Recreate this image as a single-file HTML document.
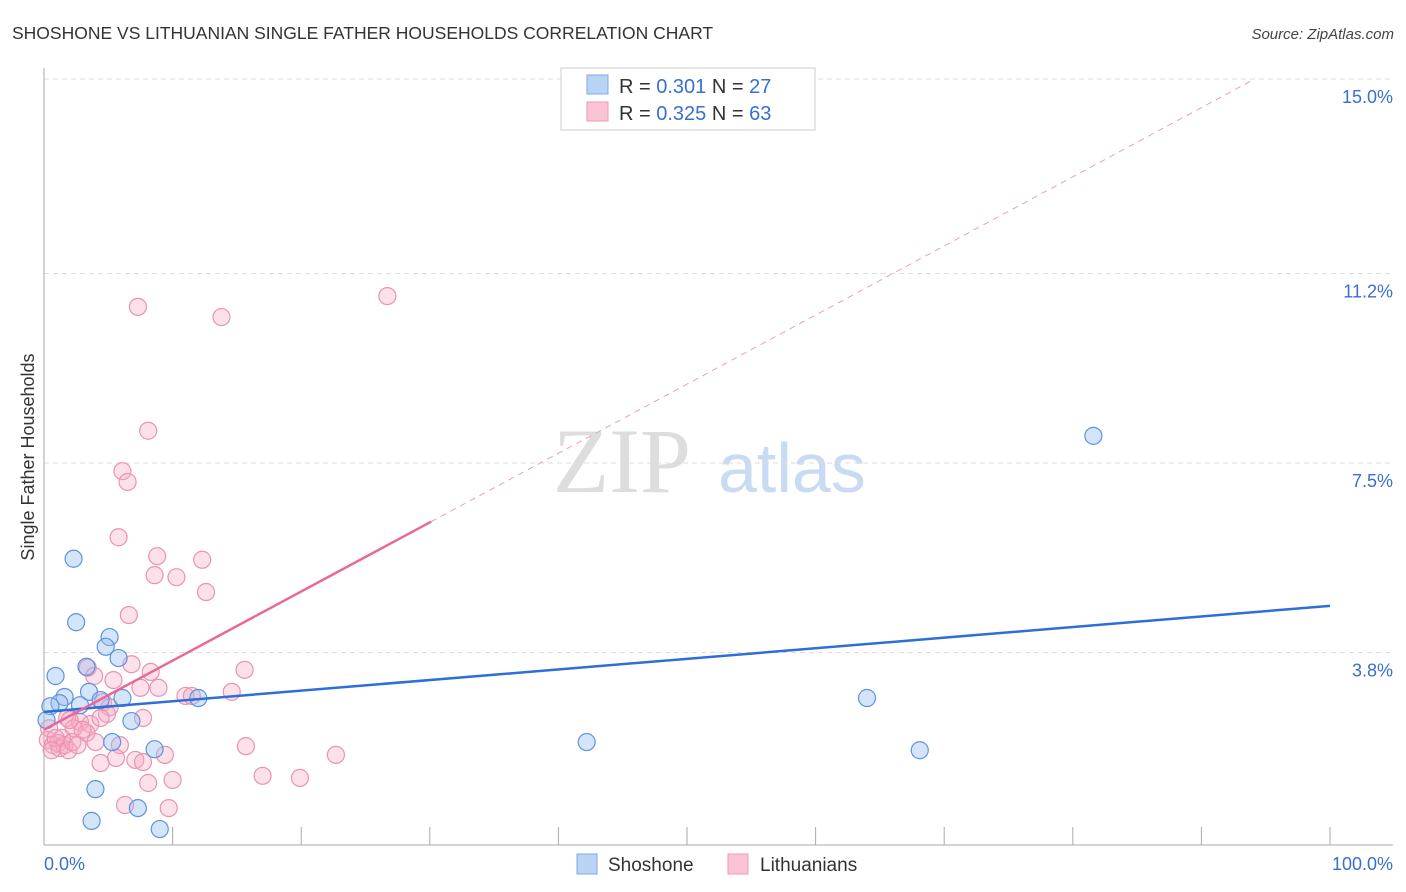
<!DOCTYPE html>
<html><head><meta charset="utf-8"><style>
body{margin:0;background:#fff;font-family:"Liberation Sans",sans-serif}
svg{display:block}
</style></head><body>
<svg id="chart" width="1406" height="892" xmlns="http://www.w3.org/2000/svg">
<text x="12" y="39" font-size="17.5" fill="#333" font-family="Liberation Sans, sans-serif">SHOSHONE VS LITHUANIAN SINGLE FATHER HOUSEHOLDS CORRELATION CHART</text>
<text x="1394" y="39" font-size="15" fill="#444" font-style="italic" text-anchor="end">Source: ZipAtlas.com</text>
<g>
<text x="553" y="492" font-size="92" fill="#ddd" font-family="Liberation Serif, serif">ZIP</text>
<text x="718" y="492" font-size="70" fill="#c9dbf2">atlas</text>
</g>
<g id="grid"></g>
<g id="axes"></g>
<g id="marks"></g>
<text transform="translate(34,457) rotate(-90)" font-size="18" fill="#333" text-anchor="middle">Single Father Households</text>
<g>
<rect x="561" y="68" width="254" height="62" fill="#fff" stroke="#ccc"/>
<rect x="587" y="75" width="21" height="19" fill="#b9d3f5" stroke="#7ea8e6"/>
<rect x="587" y="102" width="21" height="19" fill="#f9c4d4" stroke="#ee9ab5"/>
<text x="619" y="93" font-size="20" fill="#333">R = <tspan fill="#3a6fd0">0.301</tspan>   N = <tspan fill="#3a6fd0">27</tspan></text>
<text x="619" y="120" font-size="20" fill="#333">R = <tspan fill="#3a6fd0">0.325</tspan>   N = <tspan fill="#3a6fd0">63</tspan></text>
</g>
<g>
<rect x="577" y="854" width="20" height="20" fill="#b9d3f5" stroke="#7ea8e6"/>
<text x="608" y="871" font-size="19" fill="#333">Shoshone</text>
<rect x="728" y="854" width="20" height="20" fill="#f9c4d4" stroke="#ee9ab5"/>
<text x="760" y="871" font-size="19" fill="#333">Lithuanians</text>
</g>
</svg>
<script>
const yTicks=[3.8,7.5,11.2,15.0];
const yTickLabels=["3.8%","7.5%","11.2%","15.0%"];
const xTickLabels=["0.0%","100.0%"];
const shoX=[2.3,2.5,5.1,4.8,5.8,0.9,3.3,1.6,3.5,1.2,0.5,2.8,4.4,6.1,12.0,6.8,0.2,5.3,8.6,4.0,7.3,3.7,9.0,42.2,64.0,68.1,81.6];
const shoY=[5.63,4.39,4.10,3.91,3.69,3.34,3.52,2.93,3.03,2.81,2.75,2.77,2.87,2.91,2.91,2.46,2.48,2.05,1.91,1.13,0.76,0.51,0.35,2.05,2.91,1.89,8.03];
const litX=[7.3,13.8,26.7,8.1,6.1,6.5,5.8,8.8,12.3,8.6,10.3,12.6,6.6,6.8,8.3,15.6,3.4,3.9,5.4,7.5,8.9,11.0,11.5,14.6,4.6,5.1,4.9,7.7,1.8,2.8,3.6,2.3,3.3,1.4,0.3,0.7,1.1,1.2,1.9,1.6,4.0,5.9,9.4,15.7,22.7,4.4,5.6,7.1,7.7,10.0,8.1,17.0,19.9,6.3,9.7,0.4,2.2,0.9,2.6,3.0,2.0,4.4,0.6];
const litY=[10.55,10.35,10.76,8.13,7.34,7.13,6.05,5.68,5.61,5.31,5.27,4.98,4.53,3.57,3.42,3.46,3.50,3.34,3.26,3.11,3.11,2.95,2.95,3.03,2.83,2.73,2.60,2.52,2.52,2.44,2.40,2.32,2.23,2.13,2.09,1.99,2.03,1.93,1.89,1.99,2.05,1.99,1.80,1.97,1.80,1.64,1.74,1.70,1.66,1.31,1.25,1.39,1.35,0.82,0.76,2.32,2.05,2.13,1.99,2.29,2.48,2.52,1.89];
const shoTrend=[2.64,4.71];
const litTrend=[2.29,0.135];
const NS="http://www.w3.org/2000/svg";
const X=v=>44+v*12.86, Y=v=>847-v*51.2;
function mk(p,t,a){const e=document.createElementNS(NS,t);for(const k in a)e.setAttribute(k,a[k]);p.appendChild(e);return e;}
const grid=document.getElementById('grid'),axes=document.getElementById('axes'),marks=document.getElementById('marks');
yTicks.forEach((t,i)=>{
 const l=mk(grid,'line',{x1:44,x2:1393,y1:Y(t),y2:Y(t),stroke:'#ddd','stroke-dasharray':'5,4'});
 
 
 const tx=mk(axes,'text',{x:1393,y:Y(t)+24,'font-size':18,fill:'#3a6fd0','text-anchor':'end'});
 tx.textContent=yTickLabels[i];
 
 
});
let ax=mk(axes,'line',{x1:44,x2:44,y1:68,y2:845,stroke:'#aaa'});


ax=mk(axes,'line',{x1:44,x2:1393,y1:845,y2:845,stroke:'#aaa'});


for(let i=1;i<=10;i++){
 const t=mk(axes,'line',{x1:X(i*10),x2:X(i*10),y1:827,y2:845,stroke:'#aaa'});
 
 
}
let xl=mk(axes,'text',{x:44,y:870,'font-size':18,fill:'#3a6fd0'});xl.textContent=xTickLabels[0];


xl=mk(axes,'text',{x:1393,y:870,'font-size':18,fill:'#3a6fd0','text-anchor':'end'});xl.textContent=xTickLabels[1];


litX.forEach((v,i)=>{
 const c=mk(marks,'circle',{cx:X(v),cy:Y(litY[i]),r:8.5,fill:'rgba(246,168,194,0.35)',stroke:'#ea93b1','stroke-width':1.2});
 
 
});
shoX.forEach((v,i)=>{
 const c=mk(marks,'circle',{cx:X(v),cy:Y(shoY[i]),r:8.5,fill:'rgba(150,190,240,0.4)',stroke:'#5e93dd','stroke-width':1.2});
 
 
});
let tl=mk(marks,'line',{x1:X(0),y1:Y(shoTrend[0]),x2:X(100),y2:Y(shoTrend[1]),stroke:'#2d6fd6','stroke-width':2.5});


const xEnd=(15-litTrend[0])/litTrend[1];
tl=mk(marks,'line',{x1:X(30.1),y1:Y(litTrend[0]+litTrend[1]*30.1),x2:X(xEnd),y2:Y(15),stroke:'#eaa0b8','stroke-width':1,'stroke-dasharray':'6,5'});


tl=mk(marks,'line',{x1:X(0),y1:Y(litTrend[0]),x2:X(30.1),y2:Y(litTrend[0]+litTrend[1]*30.1),stroke:'#e8689a','stroke-width':2.5});


</script>
</body></html>
